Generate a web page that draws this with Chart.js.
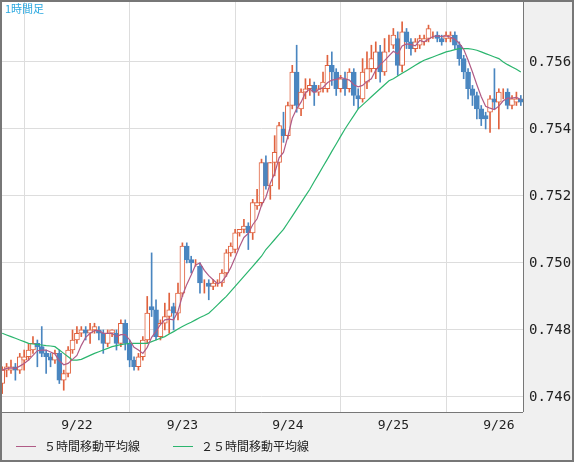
<!DOCTYPE html>
<html>
<head>
<meta charset="utf-8">
<script src="https://cdn.jsdelivr.net/npm/chart.js@4"></script>
<style>body{margin:0;background:#f0f0f0}canvas{display:block}</style>
</head>
<body>
<canvas id="chart" width="574" height="462"></canvas>
<script>
const opens = [.7464,.7468,.7468,.7469,.7468,.7471,.7472,.7474,.7476,.7475,.7473,.7472,.7471,.7473,.7465,.7467,.7474,.7477,.7479,.7480,
.7479,.7480,.7480,.7479,.7476,.7479,.7479,.7476,.7482,.7476,.7471,.7469,.7472,.7477,.7487,.7486,.7478,.7482,.7484,.7487,
.7485,.7491,.7505,.7501,.7500,.7499,.7494,.7494,.7493,.7494,.7494,.7497,.7503,.7504,.7509,.7510,.7511,.7509,.7517,.7518,
.7530,.7523,.7530,.7530,.7540,.7538,.7547,.7557,.7546,.7551,.7552,.7553,.7551,.7552,.7552,.7559,.7557,.7552,.7555,.7552,
.7557,.7550,.7549,.7554,.7558,.7558,.7563,.7557,.7565,.7565,.7567,.7559,.7569,.7566,.7564,.7565,.7566,.7567,.7568,.7568,
.7567,.7567,.7567,.7568,.7565,.7561,.7557,.7552,.7550,.7546,.7544,.7545,.7549,.7548,.7551,.7551,.7547,.7548,.7549];
const closes = [.7468,.7469,.7469,.7468,.7472,.7472,.7474,.7476,.7475,.7473,.7472,.7471,.7473,.7465,.7467,.7474,.7477,.7479,.7480,.7479,
.7480,.7481,.7479,.7476,.7479,.7480,.7476,.7482,.7476,.7471,.7469,.7472,.7477,.7485,.7486,.7478,.7482,.7484,.7486,.7485,
.7491,.7505,.7501,.7500,.7500,.7494,.7494,.7493,.7494,.7494,.7497,.7503,.7505,.7509,.7510,.7511,.7509,.7518,.7518,.7530,
.7523,.7530,.7533,.7541,.7538,.7547,.7557,.7547,.7551,.7552,.7553,.7551,.7552,.7554,.7559,.7557,.7552,.7555,.7552,.7557,
.7550,.7549,.7557,.7558,.7561,.7563,.7557,.7563,.7565,.7568,.7559,.7569,.7566,.7564,.7566,.7567,.7567,.7570,.7568,.7567,
.7566,.7568,.7568,.7565,.7561,.7557,.7552,.7550,.7546,.7543,.7543,.7549,.7548,.7551,.7551,.7547,.7549,.7549,.7548];
const highs = [.7469,.7470,.7471,.7470,.7473,.7474,.7476,.7478,.7477,.7481,.7474,.7473,.7474,.7474,.7468,.7475,.7480,.7481,.7481,.7481,
.7482,.7482,.7481,.7480,.7480,.7480,.7480,.7483,.7483,.7477,.7472,.7473,.7478,.7490,.7503,.7489,.7483,.7488,.7491,.7488,
.7494,.7506,.7506,.7502,.7501,.7500,.7495,.7495,.7495,.7495,.7498,.7504,.7506,.7510,.7510,.7513,.7512,.7519,.7522,.7531,
.7532,.7530,.7538,.7542,.7545,.7548,.7559,.7565,.7552,.7555,.7555,.7554,.7553,.7557,.7562,.7563,.7558,.7556,.7557,.7558,
.7558,.7552,.7561,.7563,.7565,.7566,.7565,.7567,.7568,.7570,.7569,.7572,.7570,.7567,.7567,.7568,.7568,.7571,.7569,.7569,
.7568,.7569,.7569,.7569,.7566,.7562,.7558,.7553,.7551,.7547,.7545,.7550,.7558,.7552,.7552,.7552,.7550,.7551,.7550];
const lows = [.7461,.7466,.7467,.7465,.7467,.7468,.7471,.7473,.7469,.7472,.7467,.7469,.7470,.7464,.7462,.7466,.7473,.7476,.7478,.7477,
.7476,.7479,.7477,.7473,.7475,.7478,.7474,.7475,.7474,.7469,.7468,.7468,.7471,.7476,.7484,.7477,.7477,.7480,.7479,.7480,
.7483,.7490,.7500,.7497,.7499,.7491,.7491,.7489,.7492,.7493,.7493,.7496,.7502,.7503,.7508,.7509,.7504,.7507,.7516,.7517,
.7522,.7519,.7526,.7522,.7536,.7537,.7546,.7545,.7544,.7549,.7550,.7547,.7550,.7551,.7551,.7553,.7550,.7551,.7550,.7551,
.7547,.7546,.7548,.7552,.7557,.7555,.7554,.7556,.7563,.7564,.7556,.7557,.7564,.7562,.7563,.7564,.7565,.7566,.7567,.7566,
.7565,.7566,.7566,.7564,.7559,.7555,.7549,.7547,.7543,.7541,.7540,.7539,.7546,.7540,.7549,.7546,.7546,.7547,.7547];
const ma25 = [.7479,.74785,.7478,.74775,.7477,.74765,.7476,
.74758,.74757,.74755,.74753,.74752,.7475,
.7474,.7473,.7472,.7471,
.7471,.74712,.74718,.74724,.7473,
.74735,.7474,.74745,.7475,.74753,.74756,.74758,.7476,
.7476,.7476,.7476,.7476,
.74765,.7477,.74775,.7478,
.74788,.74795,.74803,.7481,
.74817,.74823,.7483,.74837,.74843,.7485,
.74862,.74875,.74888,.749,
.74915,.7493,.74945,.7496,.74975,.7499,.75005,.7502,.7504,
.75055,.7507,.75085,.751,.7512,
.7514,.7516,.7518,.752,.7522,
.75243,.75265,.75288,.7531,.75333,.75355,.75378,.754,
.7542,.7544,.7546,
.75472,.75484,.75496,.75508,.7552,.75532,.75544,.7555,
.75558,.75566,.75574,.75582,.7559,.75598,.75605,.7561,
.75615,.7562,.75625,.7563,.75633,.75637,.7564,
.7564,.7564,.75638,.75635,.7563,
.75625,.7562,.75615,.7561,.756,
.75592,.75585,.75578,.7557];
const yTicks = [0.746, 0.748, 0.750, 0.752, 0.754, 0.756];
const startDay = 21, startHour = 7;

const UP = '#e0623e', DOWN = '#4a86c0';
const labels = closes.map((c, i) => {
  const h = startHour + i;
  return { day: startDay + Math.floor(h / 24), hour: h % 24 };
}).map(t => `9/${t.day} ${t.hour}:00`);
const ma5 = closes.map((c, i) => {
  const s = closes.slice(Math.max(0, i - 4), i + 1);
  return s.reduce((a, b) => a + b, 0) / s.length;
});
const isUp = closes.map((c, i) => c >= opens[i]);
const colors = isUp.map(u => u ? UP : DOWN);

const bgPlugin = {
  id: 'bg',
  beforeDraw(chart) {
    const { ctx, chartArea: a } = chart;
    ctx.save();
    ctx.fillStyle = '#f0f0f0';
    ctx.fillRect(0, 0, chart.width, chart.height);
    ctx.fillStyle = '#fff';
    ctx.fillRect(a.left, a.top, a.right - a.left, a.bottom - a.top);
    ctx.restore();
  },
  afterDraw(chart) {
    const { ctx, chartArea: a } = chart;
    ctx.save();
    ctx.strokeStyle = '#777';
    ctx.lineWidth = 2;
    ctx.strokeRect(1, 1, chart.width - 2, chart.height - 2);
    ctx.lineWidth = 1;
    ctx.beginPath();
    ctx.moveTo(a.right + 0.5, 0); ctx.lineTo(a.right + 0.5, a.bottom);
    ctx.moveTo(0, a.bottom + 0.5); ctx.lineTo(a.right, a.bottom + 0.5);
    ctx.stroke();
    ctx.fillStyle = '#2aa8e0';
    ctx.font = '11px "Noto Sans CJK JP"';
    ctx.textBaseline = 'top';
    ctx.fillText('1時間足', 5, 3);
    // legend
    ctx.font = '12px "Noto Sans CJK JP"';
    ctx.textBaseline = 'middle';
    const y = 446;
    [['５時間移動平均線', '#b05b86', 16], ['２５時間移動平均線', '#2bb56e', 173]].forEach(([t, c, x]) => {
      ctx.strokeStyle = c;
      ctx.beginPath(); ctx.moveTo(x, y + 0.5); ctx.lineTo(x + 20, y + 0.5); ctx.stroke();
      ctx.fillStyle = '#222';
      ctx.fillText(t, x + 28, y);
    });
    ctx.restore();
  }
};

new Chart(document.getElementById('chart'), {
  data: {
    labels,
    datasets: [
      { type: 'line', data: ma5, borderColor: '#b05b86', borderWidth: 1.2, pointRadius: 0, order: 1 },
      { type: 'line', data: ma25, borderColor: '#2bb56e', borderWidth: 1.2, pointRadius: 0, order: 1 },
      { type: 'bar', data: opens.map((o, i) => [o, closes[i]]), backgroundColor: isUp.map(u => u ? '#fff' : DOWN),
        borderColor: colors, borderWidth: 1, borderSkipped: false, barThickness: 5, grouped: false, order: 2 },
      { type: 'bar', data: lows.map((l, i) => [l, highs[i]]), backgroundColor: colors, borderWidth: 0,
        barThickness: 1, grouped: false, order: 3 }
    ]
  },
  options: {
    responsive: false,
    animation: false,
    layout: { padding: { left: 0, top: 0, right: 0, bottom: 28 } },
    plugins: { legend: { display: false }, tooltip: { enabled: false } },
    scales: {
      x: {
        offset: true,
        grid: { color: '#ddd', drawTicks: false },
        border: { display: false },
        ticks: {
          autoSkip: false, maxRotation: 0, padding: 6,
          color: '#222', font: { family: 'DejaVu Sans Mono', size: 13 },
          callback: function (v) {
            const l = this.getLabelForValue(v);
            return l.endsWith(' 0:00') ? l.split(' ')[0] : null;
          }
        },
        afterFit: s => { s.height = 22; s.paddingLeft = 0; s.paddingRight = 0; }
      },
      y: {
        position: 'right',
        min: 0.74555, max: 0.75785,
        grid: { color: '#ddd', drawTicks: false },
        border: { display: false },
        afterBuildTicks: s => { s.ticks = yTicks.map(v => ({ value: v })); },
        ticks: {
          padding: 6, color: '#222', font: { family: 'DejaVu Sans Mono', size: 14 },
          callback: v => v.toFixed(3)
        },
        afterFit: s => { s.width = 51; s.paddingTop = 0; s.paddingBottom = 0; }
      }
    }
  },
  plugins: [bgPlugin]
});
</script>
</body>
</html>
